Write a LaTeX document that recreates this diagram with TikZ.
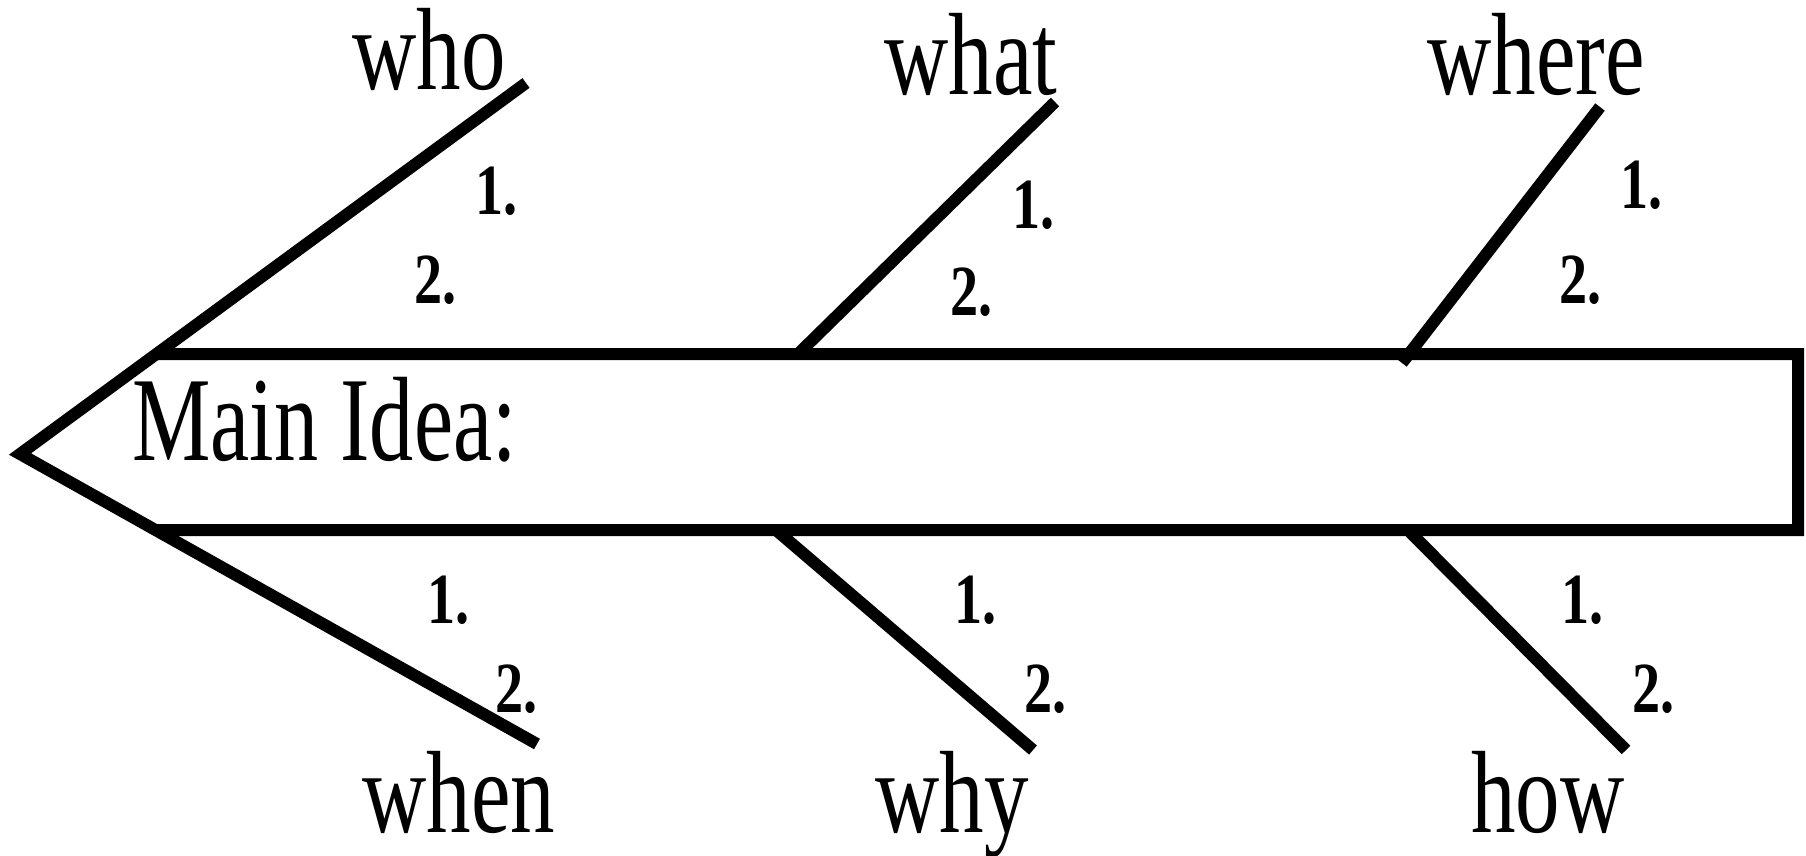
\documentclass[tikz,border=0pt]{standalone}
\usepackage{fontspec}
\setmainfont{Liberation Serif}
\newfontfamily\labfont[FakeStretch=0.76]{Liberation Serif}
\newfontfamily\ideafont[FakeStretch=0.735]{Liberation Serif}
\newfontfamily\numfont[FakeStretch=0.78]{Liberation Serif}
\begin{document}
\begin{tikzpicture}[x=0.5pt,y=-0.5pt,
  bone/.style={line width=6pt},
  lab/.style={inner sep=0pt, anchor=base west, font=\labfont\fontsize{58.5}{60}\selectfont},
  idea/.style={inner sep=0pt, anchor=base west, font=\ideafont\fontsize{60}{61}\selectfont},
  num/.style={inner sep=0pt, anchor=base west, font=\numfont\bfseries\fontsize{36}{38}\selectfont}]
\useasboundingbox (0,0) rectangle (1806,856);
% head
\coordinate (tip) at (20,454);
\coordinate (whoE) at (526,83);
\coordinate (whenE) at (537,744);
\coordinate (topA) at (0,354);
\coordinate (topB) at (1806,354);
\coordinate (botA) at (0,530);
\coordinate (botB) at (1806,530);
\coordinate (tl) at (intersection of tip--whoE and topA--topB);
\coordinate (bl) at (intersection of tip--whenE and botA--botB);
\coordinate (tr) at (1798,354);
\coordinate (br) at (1798,530);
\draw[bone, line join=miter] (whoE) -- (tip) -- (whenE);
\draw[bone, line join=miter] (tl) -- (tr) -- (br) -- (bl);
% branches
\coordinate (whatA) at (798,354);  \coordinate (whatB) at (1055,102);
\coordinate (whereA) at (1402,363); \coordinate (whereB) at (1600,107);
\coordinate (whyA) at (776,530);   \coordinate (whyB) at (1033,750);
\coordinate (howA) at (1408,530);  \coordinate (howB) at (1626,750);
\draw[bone] (whatA) -- (whatB);
\draw[bone] (whereA) -- (whereB);
\draw[bone] (whyA) -- (whyB);
\draw[bone] (howA) -- (howB);
% labels
\node[lab] (who) at (352,90) {who};
\node[lab] (what) at (884,95) {what};
\node[lab] (where) at (1427,95) {where};
\node[lab] (when) at (362,832) {when};
\node[lab] (why) at (875,832) {why};
\node[lab] (how) at (1471,832) {how};
\node[idea] (idea) at (132,460) {Main Idea:};
% numbers
\node[num] (who1) at (475,214) {1.};
\node[num] (who2) at (414,303) {2.};
\node[num] (what1) at (1012,228) {1.};
\node[num] (what2) at (950,315) {2.};
\node[num] (where1) at (1620,209) {1.};
\node[num] (where2) at (1559,303) {2.};
\node[num] (when1) at (427,623) {1.};
\node[num] (when2) at (495,712) {2.};
\node[num] (why1) at (954,623) {1.};
\node[num] (why2) at (1024,712) {2.};
\node[num] (how1) at (1561,623) {1.};
\node[num] (how2) at (1632,712) {2.};
\end{tikzpicture}
\end{document}
